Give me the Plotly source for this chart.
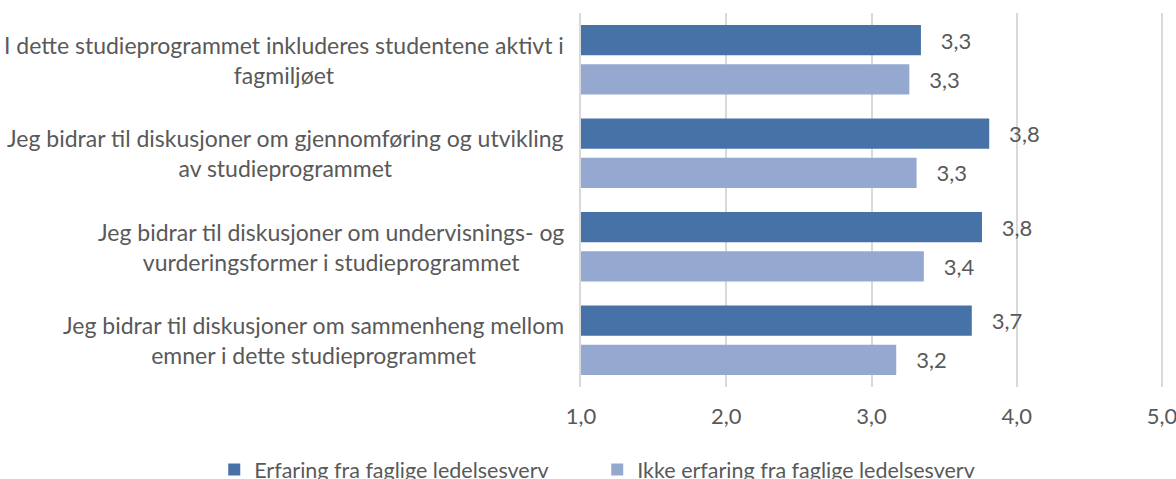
import plotly.graph_objects as go

categories = [
    "I dette studieprogrammet inkluderes studentene aktivt i<br>fagmiljøet",
    "Jeg bidrar til diskusjoner om gjennomføring og utvikling<br>av studieprogrammet",
    "Jeg bidrar til diskusjoner om undervisnings- og<br>vurderingsformer i studieprogrammet",
    "Jeg bidrar til diskusjoner om sammenheng mellom<br>emner i dette studieprogrammet",
]
series_names = ["Erfaring fra faglige ledelsesverv", "Ikke erfaring fra faglige ledelsesverv"]
erfaring = [3.34, 3.81, 3.76, 3.69]
ikke_erfaring = [3.26, 3.31, 3.36, 3.17]
tick_vals = [1, 2, 3, 4, 5]
tick_text = ["1,0", "2,0", "3,0", "4,0", "5,0"]

colors = ["#4672A8", "#95A9D0"]
font_family = "Lato"
text_color = "#595959"
fs = 22


def fmt(v):
    return "\u00a0\u00a0\u00a0" + f"{v:.1f}".replace(".", ",")


fig = go.Figure()
for name, vals, col in zip(series_names, [erfaring, ikke_erfaring], colors):
    fig.add_trace(go.Bar(
        y=categories, x=vals, base=0, orientation="h", name=name,
        marker=dict(color=col, line=dict(width=0)),
        text=[fmt(v) for v in vals], textposition="outside",
        textfont=dict(family=font_family, size=fs, color=text_color),
        cliponaxis=False,
    ))

for c in categories:
    fig.add_annotation(
        x=0, xref="paper", y=c, yref="y", text=c, showarrow=False,
        xanchor="right", xshift=-15, align="center",
        font=dict(family=font_family, size=23, color=text_color),
    )

fig.update_layout(
    width=1176, height=479,
    margin=dict(l=581, r=11, t=13, b=92, autoexpand=False),
    paper_bgcolor="white", plot_bgcolor="white",
    barmode="group", bargap=0.161, bargroupgap=0.23,
    font=dict(family=font_family, size=fs, color=text_color),
    showlegend=True,
    legend=dict(
        orientation="h", xref="paper", x=-0.628, xanchor="left",
        yref="paper", y=-0.166, yanchor="top",
        font=dict(family=font_family, size=21.5, color=text_color),
        itemwidth=30, traceorder="normal",
        entrywidth=338, entrywidthmode="pixels",
    ),
    xaxis=dict(
        range=[1, 5.02], tickvals=tick_vals, ticktext=tick_text,
        showgrid=True, gridcolor="#D9D9D9", gridwidth=2,
        zeroline=False, showline=False,
        tickfont=dict(family=font_family, size=fs, color=text_color),
        ticks="", ticklabelstandoff=14, ticklabeloverflow="allow",
    ),
    yaxis=dict(
        autorange="reversed", showticklabels=False, ticks="",
        showline=True, linecolor="#D9D9D9", linewidth=2,
        showgrid=False, zeroline=False,
    ),
)

fig.write_html(
    "out.html",
    config={"displayModeBar": False},
    post_script="document.body.style.margin='0';document.body.style.overflow='hidden';",
)
